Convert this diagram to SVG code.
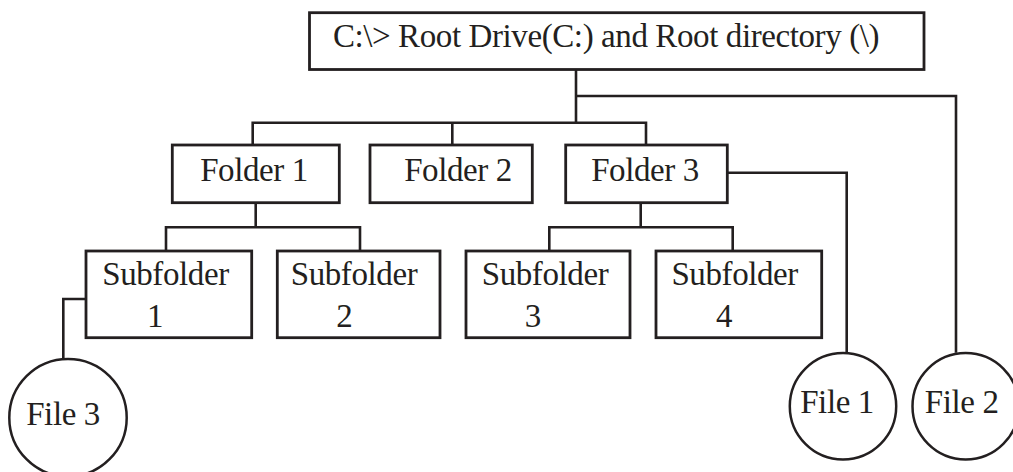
<svg xmlns="http://www.w3.org/2000/svg" width="1013" height="472" viewBox="0 0 1013 472">
<style>
.box{fill:#fff;stroke:#231f20;stroke-width:2.8}
.file{fill:#fff;stroke:#231f20;stroke-width:2.5}
.lbl{font-family:"Liberation Serif","Times New Roman",serif;font-size:33px;letter-spacing:-0.4px;fill:#231f20;text-anchor:middle}
#connectors path{fill:none;stroke:#231f20;stroke-width:2.6}
</style>
<rect width="1013" height="472" fill="#fff"/>
<g id="connectors">
<path d="M576 69.5V122.7"/>
<path d="M576 96H956V352.7"/>
<path d="M252.7 145V122.7H646V145"/>
<path d="M452.3 122.7V145"/>
<path d="M255.7 202.7V227.3"/>
<path d="M166 251V227.3H360V251"/>
<path d="M640.7 202.7V227.3"/>
<path d="M549.3 251V227.3H732.7V251"/>
<path d="M727.3 172.7H846.7V352.7"/>
<path d="M86 299H63.3V359"/>
</g>
<g id="root">
<rect class="box" x="309.5" y="12.7" width="614.5" height="56.8"/>
<text class="lbl" x="606" y="46.7">C:\&gt; Root Drive(C:) and Root directory (\)</text>
</g>
<g id="folder1">
<rect class="box" x="172.3" y="145" width="167" height="57.7"/>
<text class="lbl" x="254" y="181">Folder 1</text>
</g>
<g id="folder2">
<rect class="box" x="370" y="145" width="162.3" height="57.7"/>
<text class="lbl" x="458" y="181">Folder 2</text>
</g>
<g id="folder3">
<rect class="box" x="565.7" y="145" width="161.6" height="57.7"/>
<text class="lbl" x="645" y="181">Folder 3</text>
</g>
<g id="subfolder1">
<rect class="box" x="86" y="251" width="165.7" height="86.7"/>
<text class="lbl" x="165.5" y="285">Subfolder</text>
<text class="lbl" x="155" y="327">1</text>
</g>
<g id="subfolder2">
<rect class="box" x="277.3" y="251" width="162.7" height="86.7"/>
<text class="lbl" x="354" y="285">Subfolder</text>
<text class="lbl" x="344.3" y="327">2</text>
</g>
<g id="subfolder3">
<rect class="box" x="466" y="251" width="164" height="86.7"/>
<text class="lbl" x="545" y="285">Subfolder</text>
<text class="lbl" x="532.7" y="327">3</text>
</g>
<g id="subfolder4">
<rect class="box" x="656" y="251" width="165.7" height="86.7"/>
<text class="lbl" x="734.7" y="285">Subfolder</text>
<text class="lbl" x="724" y="327">4</text>
</g>
<g id="file1">
<circle class="file" cx="843" cy="406.3" r="53.2"/>
<text class="lbl" x="837" y="413.3">File 1</text>
</g>
<g id="file2">
<circle class="file" cx="965.7" cy="406.3" r="53.2"/>
<text class="lbl" x="961.7" y="413.3">File 2</text>
</g>
<g id="file3">
<circle class="file" cx="68" cy="417.7" r="58.7"/>
<text class="lbl" x="63" y="425">File 3</text>
</g>
</svg>
